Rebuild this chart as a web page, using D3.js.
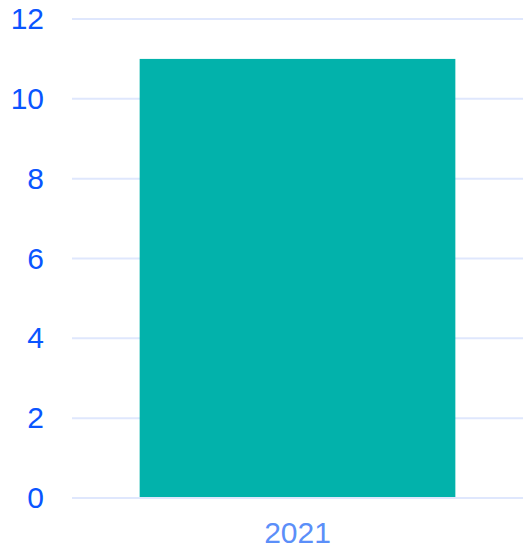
<!DOCTYPE html>
<html>
<head>
<meta charset="utf-8">
<script src="https://cdn.jsdelivr.net/npm/d3@7"></script>
<style>
  body { margin: 0; background: #fff; }
  text { font-family: "Liberation Sans", Arial, sans-serif; }
</style>
</head>
<body>
<div id="chart"></div>
<script>
// data
var years = ["2021"]
var counts = [11]
var yTicks = [0, 2, 4, 6, 8, 10, 12]

var margin = {top: 19, right: 2, bottom: 54, left: 72},
    width = 525 - margin.left - margin.right,
    height = 552 - margin.top - margin.bottom

var svg = d3.select("#chart")
  .append("svg")
    .attr("width", 525)
    .attr("height", 552)
  .append("g")
    .attr("transform", "translate(" + margin.left + "," + margin.top + ")")

var x = d3.scaleBand()
  .domain(years)
  .range([0, width])
  .paddingInner(0.3)
  .paddingOuter(0.15)

var y = d3.scaleLinear()
  .domain([0, 12])
  .range([height, 0])

// grid lines
svg.append("g")
  .selectAll("line")
  .data(yTicks)
  .enter()
  .append("line")
    .attr("x1", 0)
    .attr("x2", width)
    .attr("y1", function(d) { return y(d) })
    .attr("y2", function(d) { return y(d) })
    .attr("stroke", "#dfe7fd")
    .attr("stroke-width", 2)

// y axis labels
var yAxis = svg.append("g")
  .call(d3.axisLeft(y).tickValues(yTicks).tickSize(0).tickPadding(28))
yAxis.select(".domain").remove()
yAxis.selectAll("text")
  .attr("fill", "#0a55ff")
  .style("font-size", "30px")

// bars
svg.selectAll("rect.bar")
  .data(years)
  .enter()
  .append("rect")
    .attr("class", "bar")
    .attr("x", function(d) { return x(d) })
    .attr("y", function(d, i) { return y(counts[i]) })
    .attr("width", x.bandwidth())
    .attr("height", function(d, i) { return height - 1 - y(counts[i]) })
    .attr("fill", "#02b2ab")

// x axis labels
var xAxis = svg.append("g")
  .attr("transform", "translate(0," + height + ")")
  .call(d3.axisBottom(x).tickSize(0).tickPadding(24))
xAxis.select(".domain").remove()
xAxis.selectAll("text")
  .attr("fill", "#5b8ff9")
  .style("font-size", "30px")
</script>
</body>
</html>
